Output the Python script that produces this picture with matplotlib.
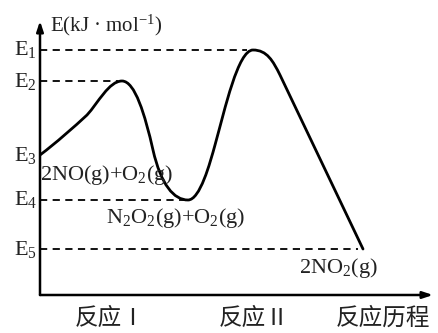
import matplotlib
matplotlib.use("Agg")
import matplotlib.pyplot as plt
from matplotlib.path import Path
from matplotlib.patches import PathPatch

plt.rcParams['mathtext.fontset'] = 'custom'
plt.rcParams['mathtext.rm'] = 'Liberation Serif'
plt.rcParams['mathtext.it'] = 'Liberation Serif'

# Energy levels (arbitrary units)
level_names = ["E$_1$", "E$_2$", "E$_3$", "E$_4$", "E$_5$"]
level_values = [245, 214, 140, 95, 46]
# dashed guide line lengths (x extent) for each level (None = no line)
level_dash_end = [207, 78, None, 146, 318]

# Reaction path: key nodes (x, E) and Bezier control handles
path_nodes = [(0, 140), (47, 180), (82, 214), (113, 145), (148, 95),
              (175, 150), (213, 245), (240, 220), (323, 46)]
path_ctrl = [((16, 152), (34, 168)),
             ((58, 192), (69, 214)),
             ((95, 214), (105, 180)),
             ((121, 110), (134, 95)),
             ((160, 95), (170, 132)),
             ((185, 186), (198, 245)),
             ((227, 245), (233, 234)),
             None]

species_labels = ["2NO(g)+O$_2$(g)", "N$_2$O$_2$(g)+O$_2$(g)", "2NO$_2$(g)"]
species_pos = [(0, 120), (66, 77), (259, 27)]
xcat_labels = ["反应Ⅰ", "反应Ⅱ", "反应历程"]
xcat_pos = [70, 214, 343]
ylabel = "E(kJ · mol$^{-1}$)"

fig = plt.figure(figsize=(4.38, 3.33), dpi=100)
ax = fig.add_axes([40/438, 38/333, 393/438, 274/333])
ax.set_xlim(0, 393)
ax.set_ylim(0, 274)
ax.axis('off')

serif = ['Liberation Serif', 'DejaVu Serif']
cjk = ['Noto Sans CJK SC', 'DejaVu Sans']

# axes with arrows
ax.annotate('', xy=(393, 0), xytext=(0, 0),
            arrowprops=dict(arrowstyle='-|>,head_length=0.6,head_width=0.2', lw=1.8, color='black',
                            shrinkA=0, shrinkB=0), annotation_clip=False)
ax.annotate('', xy=(0, 274), xytext=(0, 0),
            arrowprops=dict(arrowstyle='-|>,head_length=0.6,head_width=0.2', lw=1.8, color='black',
                            shrinkA=0, shrinkB=0), annotation_clip=False)

# levels
for name, val, dend in zip(level_names, level_values, level_dash_end):
    ax.text(-3, val, name, ha='right', va='center', fontsize=16, family=serif, color='#222222')
    if dend is not None:
        ax.plot([0, dend], [val, val], ls=(0, (4, 3)), color='black', lw=1.3)

# energy path curve
verts = [path_nodes[0]]
codes = [Path.MOVETO]
for i in range(1, len(path_nodes)):
    c = path_ctrl[i - 1]
    if c is None:
        verts.append(path_nodes[i]); codes.append(Path.LINETO)
    else:
        verts += [c[0], c[1], path_nodes[i]]
        codes += [Path.CURVE4] * 3
ax.add_patch(PathPatch(Path(verts, codes), fill=False, lw=2.0, color='black',
                       capstyle='round', joinstyle='round'))

for s, (x, y) in zip(species_labels, species_pos):
    ax.text(x, y, s, ha='left', va='center', fontsize=16, family=serif, color='#222222')

for s, x in zip(xcat_labels, xcat_pos):
    ax.text(x, -23, s, ha='center', va='center', fontsize=17, family=cjk, color='#222222')

ax.text(10, 270, ylabel, ha='left', va='center', fontsize=15, family=serif, color='#222222')

fig.savefig('out.png', dpi=100, facecolor='white')
